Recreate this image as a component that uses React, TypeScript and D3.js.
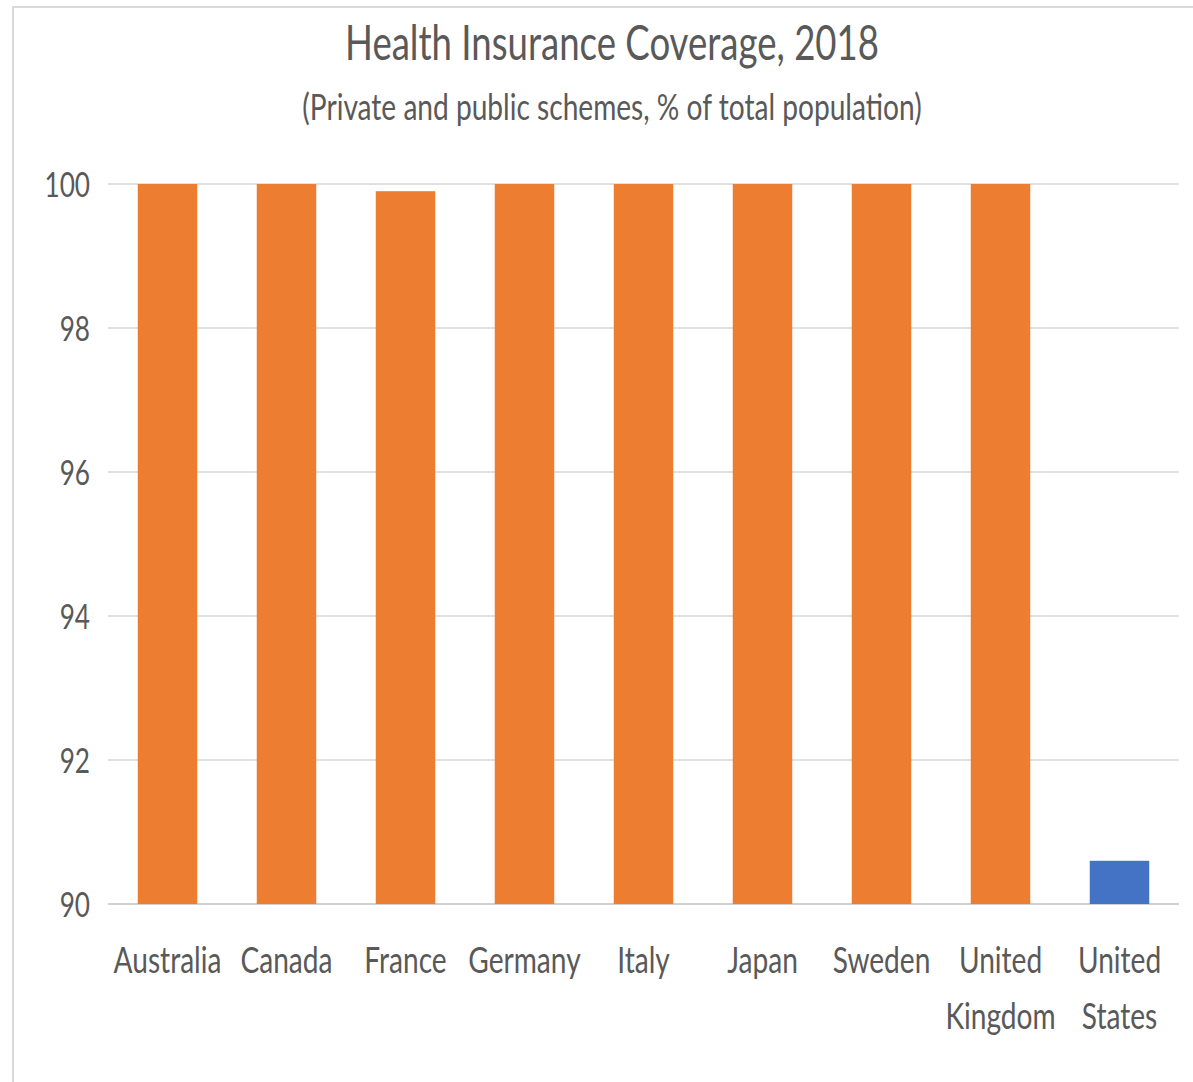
import * as d3 from "d3";
import { useEffect, useRef } from "react";

const countries = ["Australia", "Canada", "France", "Germany", "Italy", "Japan", "Sweden", "United Kingdom", "United States"];
const coverage = [100, 100, 99.9, 100, 100, 100, 100, 100, 90.6];
const barColors = ["#ed7d31", "#ed7d31", "#ed7d31", "#ed7d31", "#ed7d31", "#ed7d31", "#ed7d31", "#ed7d31", "#4472c4"];
const yTicks = [90, 92, 94, 96, 98, 100];

const title = "Health Insurance Coverage, 2018";
const subtitle = "(Private and public schemes, % of total population)";

const width = 1193;
const height = 1082;
const margin = { top: 184, right: 14, bottom: 178, left: 108 };
const sx = 0.77; // text looks horizontally squeezed in the reference

export default function App() {
    const svgRef = useRef<SVGSVGElement>(null);

    useEffect(() => {
        const svg = d3.select(svgRef.current);
        svg.selectAll("*").remove();

        const innerWidth = width - margin.left - margin.right;
        const innerHeight = height - margin.top - margin.bottom;

        // chart frame (only left and top edges are in view)
        svg.append("line").attr("x1", 13).attr("x2", 13).attr("y1", 6).attr("y2", height)
            .attr("stroke", "#d9d9d9").attr("stroke-width", 2);
        svg.append("line").attr("x1", 12).attr("x2", width).attr("y1", 7).attr("y2", 7)
            .attr("stroke", "#d9d9d9").attr("stroke-width", 2);

        const stretched = (x: number, y: number, size: number, txt: string, anchor = "middle") =>
            svg.append("text")
                .attr("transform", `translate(${x},${y}) scale(${sx},1)`)
                .attr("text-anchor", anchor)
                .attr("font-family", "Lato, 'Open Sans', sans-serif")
                .attr("font-size", size)
                .attr("fill", "#595959")
                .text(txt);

        stretched(612, 60, 47.5, title);
        stretched(612, 120, 36.5, subtitle);

        const g = svg.append("g").attr("transform", `translate(${margin.left},${margin.top})`);

        const x = d3.scaleBand().domain(countries).range([0, innerWidth]).paddingInner(0.5).paddingOuter(0.25);
        const y = d3.scaleLinear().domain([90, 100]).range([innerHeight, 0]);

        // gridlines
        g.selectAll(".grid")
            .data(yTicks)
            .join("line")
            .attr("x1", 0).attr("x2", innerWidth)
            .attr("y1", d => y(d)).attr("y2", d => y(d))
            .attr("stroke", d => (d === 90 ? "#d0d0d0" : "#e0e0e0"))
            .attr("stroke-width", 2);

        // bars
        g.selectAll(".bar")
            .data(countries)
            .join("rect")
            .attr("x", d => x(d)!)
            .attr("width", x.bandwidth())
            .attr("y", (_, i) => y(coverage[i]))
            .attr("height", (_, i) => innerHeight - y(coverage[i]))
            .attr("fill", (_, i) => barColors[i]);

        // y tick labels
        yTicks.forEach(t => {
            stretched(margin.left - 18, margin.top + y(t) + 13, 34, String(t), "end");
        });

        // category labels, wrapped on space for two-word names
        countries.forEach(c => {
            const cx = margin.left + x(c)! + x.bandwidth() / 2;
            const lines = c.includes(" ") ? c.split(" ") : [c];
            lines.forEach((ln, i) => {
                stretched(cx, margin.top + innerHeight + 69 + i * 56, 36.5, ln);
            });
        });
    }, []);

    return (
        <svg
            ref={svgRef}
            width={width}
            height={height}
            style={{ position: "absolute", left: 0, top: 0, background: "#fff" }}
        />
    );
}
